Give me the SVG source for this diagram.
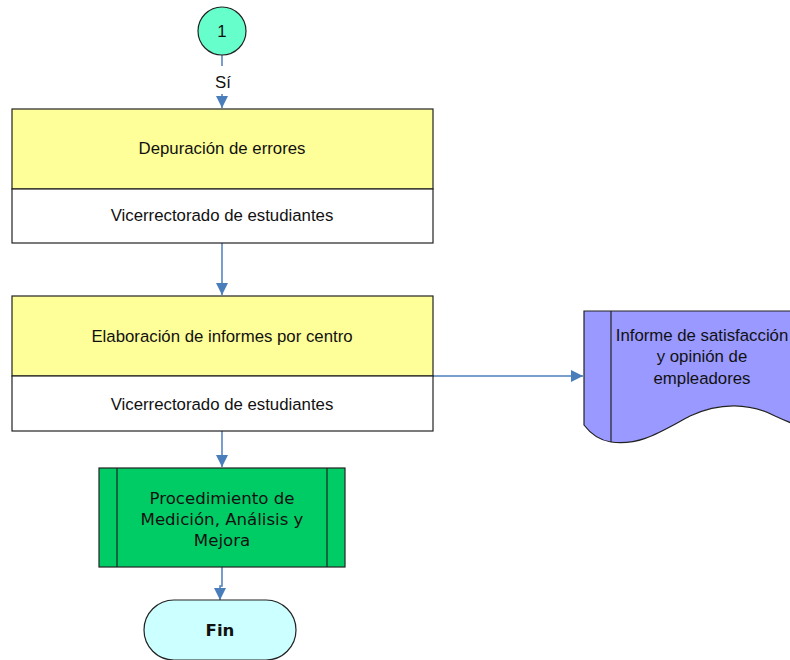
<svg xmlns="http://www.w3.org/2000/svg" width="790" height="660" viewBox="0 0 790 660">
<defs>
<marker id="arr" viewBox="0 0 12 12" refX="12" refY="6" markerWidth="12" markerHeight="12" markerUnits="userSpaceOnUse" orient="auto">
<path d="M0,0 L12,6 L0,12 z" fill="#4A7EBB"/>
</marker>
<style>
.ln{fill:none;stroke:#4A7EBB;stroke-width:1.5}
.bx{stroke:#222;stroke-width:1.2}
.t{font-family:"Liberation Sans",Arial,sans-serif;font-size:16.8px;fill:#111;text-anchor:middle}
.v{font-family:"DejaVu Sans",Verdana,sans-serif;font-size:16.6px;fill:#111;text-anchor:middle}
</style>
</defs>
<rect width="790" height="660" fill="#fff"/>
<g id="connectors">
<path class="ln" d="M222,55 V66"/>
<path class="ln" d="M222,94 V108" marker-end="url(#arr)"/>
<path class="ln" d="M222,243 V295" marker-end="url(#arr)"/>
<path class="ln" d="M433,376 H583" marker-end="url(#arr)"/>
<path class="ln" d="M222,431 V467" marker-end="url(#arr)"/>
<path class="ln" d="M222,567 V586 H220 V600" marker-end="url(#arr)"/>
<text class="t" x="223" y="88">Sí</text>
</g>
<g id="start">
<circle cx="222" cy="31" r="24" fill="#66FFCC" class="bx"/>
<text class="t" x="222" y="37">1</text>
</g>
<g id="depuracion">
<rect x="12" y="109" width="421" height="80" fill="#FFFF99" class="bx"/>
<rect x="12" y="189" width="421" height="54" fill="#FFFFFF" class="bx"/>
<text class="t" x="222" y="154">Depuración de errores</text>
<text class="t" x="222" y="221">Vicerrectorado de estudiantes</text>
</g>
<g id="elaboracion">
<rect x="12" y="296" width="421" height="80" fill="#FFFF99" class="bx"/>
<rect x="12" y="376" width="421" height="55" fill="#FFFFFF" class="bx"/>
<text class="t" x="222" y="342">Elaboración de informes por centro</text>
<text class="t" x="222" y="410">Vicerrectorado de estudiantes</text>
</g>
<g id="informe">
<path d="M584,311 H800 V426 Q790,423 775,416 C750,403 720,402 690,416 C660,432 640,446 611,442 C598,440 590,433 584,425 Z" fill="#9999FF" class="bx"/>
<line x1="611" y1="311" x2="611" y2="442" class="bx"/>
<text class="t" x="702" y="341">Informe de satisfacción</text>
<text class="t" x="702" y="362">y opinión de</text>
<text class="t" x="702" y="384">empleadores</text>
</g>
<g id="procedimiento">
<rect x="99" y="468" width="246" height="99" fill="#00CC66" class="bx"/>
<line x1="117" y1="468" x2="117" y2="567" class="bx"/>
<line x1="327" y1="468" x2="327" y2="567" class="bx"/>
<text class="v" x="222" y="504">Procedimiento de</text>
<text class="v" x="222" y="525">Medición, Análisis y</text>
<text class="v" x="222" y="546">Mejora</text>
</g>
<g id="fin">
<rect x="144" y="600" width="152" height="60" rx="30" ry="30" fill="#CCFFFF" class="bx"/>
<text class="v" x="220" y="636" font-weight="bold">Fin</text>
</g>
</svg>
